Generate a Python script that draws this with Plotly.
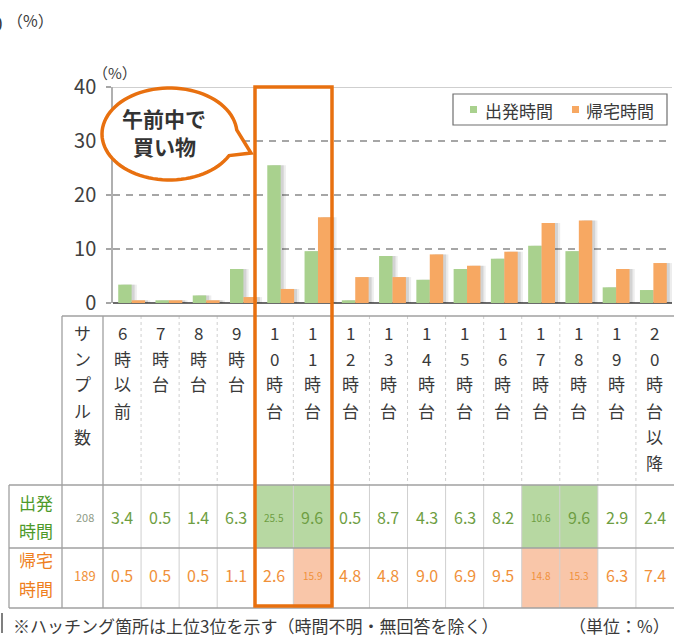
import math
import plotly.graph_objects as go

# ---- data -------------------------------------------------------------
hours = ["6時以前", "7時台", "8時台", "9時台", "10時台", "11時台", "12時台",
         "13時台", "14時台", "15時台", "16時台", "17時台", "18時台", "19時台",
         "20時台以降"]
departure = [3.4, 0.5, 1.4, 6.3, 25.5, 9.6, 0.5, 8.7, 4.3, 6.3, 8.2, 10.6, 9.6, 2.9, 2.4]
return_home = [0.5, 0.5, 0.5, 1.1, 2.6, 15.9, 4.8, 4.8, 9.0, 6.9, 9.5, 14.8, 15.3, 6.3, 7.4]
series_names = ["出発時間", "帰宅時間"]
sample_sizes = [208, 189]
y_ticks = [0, 10, 20, 30, 40]
sample_header = "サンプル数"
callout_lines = ["午前中で", "買い物"]
footnote = "※ハッチング箇所は上位3位を示す（時間不明・無回答を除く）"
unit_note = "（単位：%）"
pct_mark = "（%）"

# ---- styling ----------------------------------------------------------
W, H = 674, 637
FONT = "Noto Sans CJK JP"
GREEN_BAR = "#A9D18E"
ORANGE_BAR = "#F7A862"
GREEN_TXT = "#6E9E42"
ORANGE_TXT = "#F0913A"
GREEN_LBL = "#4E9A2A"
ORANGE_LBL = "#EE7F1E"
GREEN_FILL = "#B7D8A2"
ORANGE_FILL = "#F9C6A9"
FRAME = "#E8700F"
GRID = "#A6A6A6"
BORDER = "#A0A0A0"
INNER = "#CFCFCF"
TEXT = "#3A3A3A"


def xp(px):
    return px / W


def yp(py):
    return 1 - py / H


# plot area in page pixels
PX0, PX1, PY_TOP, PY_BOT = 113, 672, 87, 303

fig = go.Figure()

# soft drop shadows behind the bars
BAR_W = 0.36
for dx, col in [(0.14, "rgba(0,0,0,0.07)"), (0.08, "rgba(0,0,0,0.11)")]:
    for vals, off in [(departure, -BAR_W), (return_home, 0.0)]:
        fig.add_trace(go.Bar(x=hours, y=vals, offset=off + dx, width=BAR_W,
                             marker=dict(color=col, line=dict(width=0)),
                             showlegend=False, hoverinfo="skip"))

for vals, off, col, name in [(departure, -BAR_W, GREEN_BAR, series_names[0]),
                             (return_home, 0.0, ORANGE_BAR, series_names[1])]:
    fig.add_trace(go.Bar(x=hours, y=vals, offset=off, width=BAR_W, name=name,
                         marker=dict(color=col, line=dict(width=0)),
                         showlegend=False))

shapes = []
ann = []

# top border of the plot
shapes.append(dict(type="line", xref="x domain", yref="y", x0=0, x1=1, y0=40, y1=40,
                   line=dict(color="#BFBFBF", width=1.5), layer="below"))

# ---- legend box -------------------------------------------------------
shapes.append(dict(type="rect", xref="paper", yref="paper",
                   x0=xp(453), x1=xp(667), y0=yp(94), y1=yp(125),
                   line=dict(color="#6F6F6F", width=1.2), fillcolor="white"))
for sx, tx, col, name in [(470, 483, GREEN_BAR, series_names[0]),
                          (572, 584, ORANGE_BAR, series_names[1])]:
    shapes.append(dict(type="rect", xref="paper", yref="paper",
                       x0=xp(sx), x1=xp(sx + 7), y0=yp(106), y1=yp(113),
                       line=dict(width=0), fillcolor=col))
    ann.append(dict(x=xp(tx), y=yp(110), xref="paper", yref="paper", text=name,
                    showarrow=False, xanchor="left", yanchor="middle",
                    font=dict(size=17, color=TEXT, family=FONT)))

# ---- table ------------------------------------------------------------
T_LEFT, LBL_R, SMP_R, T_RIGHT = 9, 62, 103, 674
HDR_TOP, HDR_BOT, R1_BOT, R2_BOT = 316, 485, 548, 608
CW = (T_RIGHT - SMP_R) / len(hours)
row_tops = [HDR_BOT, R1_BOT]
row_bots = [R1_BOT, R2_BOT]
row_mid = [517, 575]


def col_left(i):
    return SMP_R + CW * i


def col_center(i):
    return SMP_R + CW * (i + 0.5)


# highlighted cells: top three values per row (ties included)
rows = [departure, return_home]
fills = [GREEN_FILL, ORANGE_FILL]
for r, vals in enumerate(rows):
    cut = sorted(vals, reverse=True)[2]
    for i, v in enumerate(vals):
        if v >= cut:
            shapes.append(dict(type="rect", xref="paper", yref="paper",
                               x0=xp(col_left(i)), x1=xp(col_left(i + 1)),
                               y0=yp(row_bots[r]), y1=yp(row_tops[r]),
                               line=dict(width=0), fillcolor=fills[r]))

# inner column dividers
for k in range(1, len(hours)):
    x = xp(col_left(k))
    shapes.append(dict(type="line", xref="paper", yref="paper", x0=x, x1=x,
                       y0=yp(HDR_TOP), y1=yp(HDR_BOT),
                       line=dict(color=INNER, width=1, dash="dot")))
    shapes.append(dict(type="line", xref="paper", yref="paper", x0=x, x1=x,
                       y0=yp(HDR_BOT), y1=yp(R2_BOT),
                       line=dict(color=INNER, width=1)))

# outer / main grid lines
for x0, x1, y in [(LBL_R, T_RIGHT, HDR_TOP), (T_LEFT, T_RIGHT, HDR_BOT),
                  (T_LEFT, T_RIGHT, R1_BOT), (T_LEFT, T_RIGHT, R2_BOT)]:
    shapes.append(dict(type="line", xref="paper", yref="paper", x0=xp(x0), x1=xp(x1),
                       y0=yp(y), y1=yp(y), line=dict(color=BORDER, width=1.3)))
for x, y0, y1 in [(T_LEFT, HDR_BOT, R2_BOT), (LBL_R, HDR_TOP, R2_BOT),
                  (SMP_R, HDR_TOP, R2_BOT)]:
    shapes.append(dict(type="line", xref="paper", yref="paper", x0=xp(x), x1=xp(x),
                       y0=yp(y0), y1=yp(y1), line=dict(color=BORDER, width=1.3)))


def vertical_text(label, cx, color=TEXT, size=17):
    for j, ch in enumerate(label):
        ann.append(dict(x=xp(cx), y=yp(332 + 26 * j), xref="paper", yref="paper",
                        text=ch, showarrow=False, xanchor="center", yanchor="middle",
                        font=dict(size=size, color=color, family=FONT)))


vertical_text(sample_header, (LBL_R + SMP_R) / 2)
for i, h in enumerate(hours):
    vertical_text(h, col_center(i))

# row labels
label_y = [(503, 530), (559, 588)]
label_cols = [GREEN_LBL, ORANGE_LBL]
for r, name in enumerate(series_names):
    for part, y in zip([name[:2], name[2:]], label_y[r]):
        ann.append(dict(x=xp((T_LEFT + LBL_R) / 2), y=yp(y), xref="paper", yref="paper",
                        text=part, showarrow=False, xanchor="center", yanchor="middle",
                        font=dict(size=17, color=label_cols[r], family=FONT)))

# sample sizes and percentages
val_cols = [GREEN_TXT, ORANGE_TXT]
smp_cols = ["#8E9A86", ORANGE_TXT]
smp_size = [11, 13]
for r, vals in enumerate(rows):
    ann.append(dict(x=xp((LBL_R + SMP_R) / 2 + 2), y=yp(row_mid[r]), xref="paper",
                    yref="paper", text=str(sample_sizes[r]), showarrow=False,
                    xanchor="center", yanchor="middle",
                    font=dict(size=smp_size[r], color=smp_cols[r], family=FONT)))
    for i, v in enumerate(vals):
        s = f"{v:.1f}"
        ann.append(dict(x=xp(col_center(i)), y=yp(row_mid[r]), xref="paper", yref="paper",
                        text=s, showarrow=False, xanchor="center", yanchor="middle",
                        font=dict(size=10 if v >= 10 else 16, color=val_cols[r],
                                  family=FONT)))

# ---- callout bubble ---------------------------------------------------
cx, cy, rx, ry = 169.5, 134, 67.5, 46
pts = []
for d in range(28, 356, 4):
    t = math.radians(d)
    pts.append((cx + rx * math.cos(t), cy + ry * math.sin(t)))
t = math.radians(355)
pts.append((cx + rx * math.cos(t), cy + ry * math.sin(t)))
pts.append((251, 153))
path = "M " + " L ".join(f"{xp(x):.5f},{yp(y):.5f}" for x, y in pts) + " Z"
shapes.append(dict(type="path", xref="paper", yref="paper", path=path,
                   fillcolor="white", line=dict(color=FRAME, width=3.5)))
for line, y in zip(callout_lines, [118, 146]):
    ann.append(dict(x=xp(164), y=yp(y), xref="paper", yref="paper", text=line,
                    showarrow=False, xanchor="center", yanchor="middle",
                    font=dict(size=21, color="#333333", family=FONT, weight="bold")))

# emphasis frame around the 10-11 o'clock columns
shapes.append(dict(type="rect", xref="paper", yref="paper",
                   x0=xp(255), x1=xp(332), y0=yp(606), y1=yp(87),
                   line=dict(color=FRAME, width=3.5), fillcolor="rgba(0,0,0,0)"))

# ---- loose texts --------------------------------------------------------
ann += [
    dict(x=xp(115), y=yp(73), xref="paper", yref="paper", text=pct_mark, showarrow=False,
         xanchor="center", yanchor="middle", font=dict(size=15, color=TEXT, family=FONT)),
    dict(x=xp(5), y=yp(22), xref="paper", yref="paper", text="0", showarrow=False,
         xanchor="right", yanchor="middle", font=dict(size=19, color=TEXT, family=FONT)),
    dict(x=xp(30), y=yp(20), xref="paper", yref="paper", text=pct_mark, showarrow=False,
         xanchor="center", yanchor="middle", font=dict(size=16, color=TEXT, family=FONT)),
    dict(x=xp(11), y=yp(625), xref="paper", yref="paper", text=footnote, showarrow=False,
         xanchor="left", yanchor="middle", font=dict(size=17, color=TEXT, family=FONT)),
    dict(x=xp(672), y=yp(625), xref="paper", yref="paper", text=unit_note,
         showarrow=False, xanchor="right", yanchor="middle",
         font=dict(size=17, color=TEXT, family=FONT)),
]
shapes.append(dict(type="line", xref="paper", yref="paper", x0=xp(2), x1=xp(2),
                   y0=yp(613), y1=yp(633), line=dict(color="#555555", width=1.5)))

fig.update_layout(
    width=W, height=H,
    margin=dict(l=0, r=0, t=0, b=0, autoexpand=False),
    paper_bgcolor="white", plot_bgcolor="white",
    barmode="overlay",
    showlegend=False,
    font=dict(family=FONT, color=TEXT),
    xaxis=dict(domain=[xp(PX0), xp(PX1)], type="category", range=[-0.5, len(hours) - 0.5],
               showticklabels=False, showgrid=False, ticks="", showline=False,
               zeroline=False, fixedrange=True),
    yaxis=dict(domain=[yp(PY_BOT), yp(PY_TOP)], range=[0, 40], tickvals=y_ticks,
               showgrid=True, gridcolor=GRID, gridwidth=1.5, griddash="7px,6px",
               zeroline=True, zerolinecolor="#6B6B6B", zerolinewidth=2,
               showline=True, linecolor="#B0B0B0", linewidth=1.5,
               ticks="outside", ticklen=5, tickcolor=GRID, tickwidth=1.5,
               ticklabelstandoff=6,
               tickfont=dict(size=20, color="#404040", family=FONT), fixedrange=True),
    shapes=shapes,
    annotations=ann,
)

fig.write_html("out.html", post_script="document.body.style.margin='0';")
